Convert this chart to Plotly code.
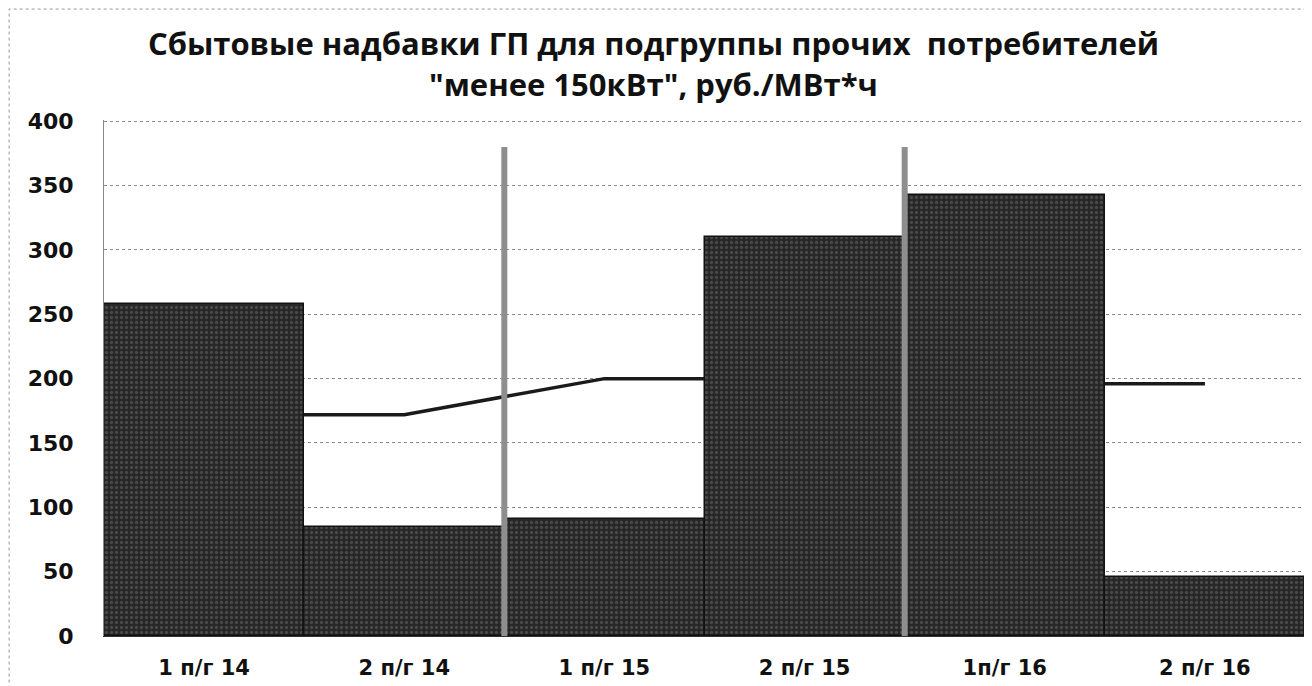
import plotly.graph_objects as go

categories = ["1 п/г 14", "2 п/г 14", "1 п/г 15", "2 п/г 15", "1п/г 16", "2 п/г 16"]
bar_values = [258, 85, 91, 310, 343, 46]
line_values = [172, 172, 200, 200, 196, 196]
y_ticks = [0, 50, 100, 150, 200, 250, 300, 350, 400]
separator_positions = [1.5, 3.5]
separator_top = 380

title_text = ("Сбытовые надбавки ГП для подгруппы прочих\u00a0\u00a0потребителей<br>"
              "\"менее 150кВт\", руб./МВт*ч")

fig = go.Figure()

# line on the base axes (drawn beneath the bars, which live on an overlaying axis)
fig.add_trace(go.Scatter(
    x=categories, y=line_values, mode="lines",
    line=dict(color="#1a1a1a", width=3.5),
    xaxis="x", yaxis="y", showlegend=False, hoverinfo="skip"))

fig.add_trace(go.Bar(
    x=categories, y=bar_values,
    marker=dict(color="#2b2b2b",
                line=dict(color="#111111", width=1.5),
                pattern=dict(shape=".", fgcolor="#6a6a6a", bgcolor="#262626",
                             size=5, solidity=0.35)),
    xaxis="x", yaxis="y2", showlegend=False))

for xp in separator_positions:
    fig.add_shape(type="line", xref="x", yref="y", x0=xp, x1=xp, y0=0, y1=separator_top,
                  line=dict(color="#8e8e8e", width=6), layer="above")

# outer dotted border
fig.add_shape(type="rect", xref="paper", yref="paper", x0=-0.079, x1=1.004,
              y0=-0.2, y1=1.215, line=dict(color="#999999", width=1, dash="dot"),
              layer="below")

fig.update_layout(
    width=1304, height=678,
    margin=dict(l=96, r=7, t=112, b=50),
    paper_bgcolor="white", plot_bgcolor="white",
    bargap=0,
    title=dict(text=title_text, x=0.495, xanchor="center", y=0.93, yanchor="middle",
               font=dict(family="Open Sans", size=31, color="#111111", weight="bold")),
    xaxis=dict(type="category", showgrid=False, showline=True, linecolor="#333333",
               linewidth=1, ticks="", tickfont=dict(family="DejaVu Sans", size=21,
               color="#111111", weight="bold"), ticklabelstandoff=13),
    yaxis=dict(range=[0, 401], tickvals=y_ticks, showgrid=True, gridcolor="#8a8a8a",
               griddash="dot", gridwidth=1, zeroline=False, showline=True,
               linecolor="#888888", linewidth=1,
               tickfont=dict(family="DejaVu Sans", size=22, color="#111111", weight="bold"),
               ticklabelstandoff=25),
    yaxis2=dict(range=[0, 401], overlaying="y", showgrid=False, showticklabels=False,
                zeroline=False, showline=False),
)

fig.write_html("out.html")
